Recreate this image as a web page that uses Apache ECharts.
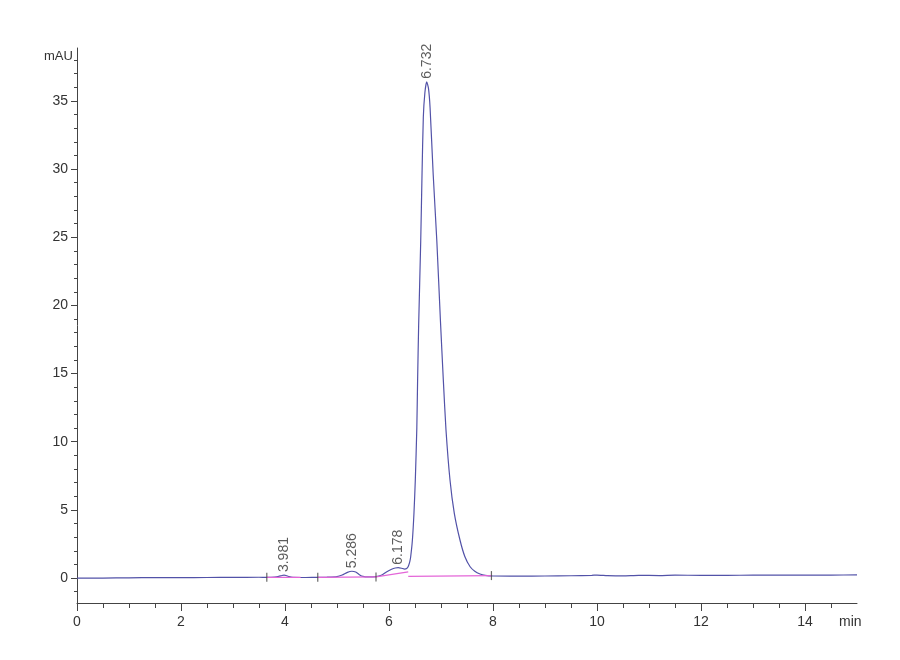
<!DOCTYPE html>
<html>
<head>
<meta charset="utf-8">
<script src="https://cdn.jsdelivr.net/npm/echarts@6/dist/echarts.min.js"></script>
<style>
html,body{margin:0;padding:0;background:#fff;}
#chart{width:900px;height:660px;}
</style>
</head>
<body>
<div id="chart"></div>
<script>
// ---- data ----
var traceTimes = [0, 0.5, 1.0, 1.5, 2.0, 2.5, 3.0, 3.5, 3.65, 3.8, 3.88, 3.94, 3.981, 4.02, 4.08, 4.15, 4.4, 4.63, 4.8, 5.0, 5.1, 5.2, 5.286, 5.36, 5.43, 5.5, 5.6, 5.75, 5.85, 5.95, 6.05, 6.12, 6.178, 6.24, 6.3, 6.34, 6.37, 6.4, 6.417, 6.45, 6.48, 6.506, 6.535, 6.55, 6.57, 6.61, 6.635, 6.66, 6.69, 6.725, 6.76, 6.79, 6.85, 6.92, 6.99, 7.045, 7.096, 7.173, 7.256, 7.365, 7.46, 7.56, 7.65, 7.75, 7.85, 8.0, 8.5, 9.0, 9.5, 9.9, 10.0, 10.2, 10.5, 10.8, 11.2, 11.5, 12.0, 12.5, 13.0, 13.5, 14.0, 14.5, 15.0];
var traceValues = [0.0, 0.0, 0.02, 0.03, 0.03, 0.04, 0.05, 0.06, 0.05, 0.07, 0.12, 0.19, 0.22, 0.19, 0.1, 0.05, 0.04, 0.05, 0.06, 0.1, 0.22, 0.42, 0.5, 0.44, 0.25, 0.12, 0.08, 0.1, 0.2, 0.45, 0.65, 0.74, 0.76, 0.72, 0.66, 0.7, 0.85, 1.2, 1.56, 2.79, 4.75, 7.19, 11.0, 14.5, 18.5, 24.7, 29.6, 33.8, 35.6, 36.4, 35.9, 34.5, 29.6, 24.7, 18.8, 14.5, 10.86, 7.19, 4.75, 2.79, 1.56, 0.83, 0.5, 0.3, 0.2, 0.15, 0.14, 0.15, 0.17, 0.2, 0.22, 0.18, 0.16, 0.2, 0.18, 0.21, 0.2, 0.2, 0.21, 0.21, 0.22, 0.22, 0.23];

var peakTimes = [3.981, 5.286, 6.178, 6.732];
var peakHeights = [0.22, 0.5, 0.76, 36.4];

// integration baselines: start and end points
var baselineStarts = [[3.65, 0.05], [4.63, 0.05], [5.75, 0.08], [6.37, 0.12]];
var baselineEnds = [[4.3, 0.05], [5.75, 0.08], [6.37, 0.45], [7.97, 0.18]];

var markerTimes = [3.65, 4.63, 5.75, 7.97];
var markerLevels = [0.05, 0.05, 0.08, 0.18];

var xMajorTicks = [0, 2, 4, 6, 8, 10, 12, 14];
var xMinorTicks = [0.5, 1, 1.5, 2.5, 3, 3.5, 4.5, 5, 5.5, 6.5, 7, 7.5, 8.5, 9, 9.5, 10.5, 11, 11.5, 12.5, 13, 13.5, 14.5];
var yMajorTicks = [0, 5, 10, 15, 20, 25, 30, 35];
var yMinorTicks = [-1, 1, 2, 3, 4, 6, 7, 8, 9, 11, 12, 13, 14, 16, 17, 18, 19, 21, 22, 23, 24, 26, 27, 28, 29, 31, 32, 33, 34, 36, 37, 38];

var xUnit = 'min';
var yUnit = 'mAU';

// ---- build options ----
var traceData = traceTimes.map(function (t, i) { return [t, traceValues[i]]; });
var peakData = peakTimes.map(function (t, i) { return [t, peakHeights[i]]; });
var markerData = markerTimes.map(function (t, i) { return [t, markerLevels[i]]; });

var tickFont = { fontFamily: 'Liberation Sans Narrow, Liberation Sans, Arial, sans-serif', fontSize: 14, color: '#333' };
var axisColor = '#444';

var series = [{
  type: 'line',
  name: 'trace',
  data: traceData,
  showSymbol: false,
  smooth: 0.2,
  lineStyle: { color: '#5252a8', width: 1.2 },
  z: 3
}];

baselineStarts.forEach(function (s, i) {
  series.push({
    type: 'line',
    data: [s, baselineEnds[i]],
    showSymbol: false,
    lineStyle: { color: '#e466d8', width: 1.2 },
    z: 4
  });
});

series.push({
  type: 'scatter',
  data: markerData,
  symbol: 'rect',
  symbolSize: [1.2, 9],
  itemStyle: { color: '#444' },
  z: 5
});

series.push({
  type: 'scatter',
  data: peakData,
  symbolSize: 0,
  label: {
    show: true,
    position: 'top',
    distance: 3,
    rotate: 90,
    align: 'left',
    verticalAlign: 'middle',
    fontFamily: 'Liberation Sans, Arial, sans-serif',
    fontSize: 14,
    color: '#333',
    formatter: function (p) { return p.value[0].toFixed(3); }
  },
  z: 6
});

var option = {
  animation: false,
  backgroundColor: '#fff',
  grid: { left: 77, right: 43, top: 48, bottom: 57 },
  xAxis: [{
    type: 'value', min: 0, max: 15, position: 'bottom',
    axisLine: { show: true, onZero: false, lineStyle: { color: axisColor, width: 1 } },
    axisTick: { show: true, length: 8, customValues: xMajorTicks, lineStyle: { color: axisColor } },
    axisLabel: Object.assign({ customValues: xMajorTicks, margin: 12 }, tickFont),
    splitLine: { show: false }
  }, {
    type: 'value', min: 0, max: 15, position: 'bottom',
    axisLine: { show: false, onZero: false },
    axisTick: { show: true, length: 5, customValues: xMinorTicks, lineStyle: { color: axisColor } },
    axisLabel: { show: false },
    splitLine: { show: false }
  }],
  yAxis: [{
    type: 'value', min: -1.83, max: 38.88, position: 'left',
    axisLine: { show: true, onZero: false, lineStyle: { color: axisColor, width: 1 } },
    axisTick: { show: true, length: 6, customValues: yMajorTicks, lineStyle: { color: axisColor } },
    axisLabel: Object.assign({ customValues: yMajorTicks, margin: 9 }, tickFont),
    splitLine: { show: false }
  }, {
    type: 'value', min: -1.83, max: 38.88, position: 'left',
    axisLine: { show: false, onZero: false },
    axisTick: { show: true, length: 3, customValues: yMinorTicks, lineStyle: { color: axisColor } },
    axisLabel: { show: false },
    splitLine: { show: false }
  }],
  graphic: [{
    type: 'text', left: 44, top: 50,
    style: { text: yUnit, fontFamily: 'Liberation Sans Narrow, Liberation Sans, Arial, sans-serif', fontSize: 13, fill: '#333' }
  }, {
    type: 'text', left: 839, top: 615,
    style: { text: xUnit, fontFamily: 'Liberation Sans Narrow, Liberation Sans, Arial, sans-serif', fontSize: 14, fill: '#333' }
  }],
  series: series
};

var chart = echarts.init(document.getElementById('chart'));
chart.setOption(option);
</script>
</body>
</html>
